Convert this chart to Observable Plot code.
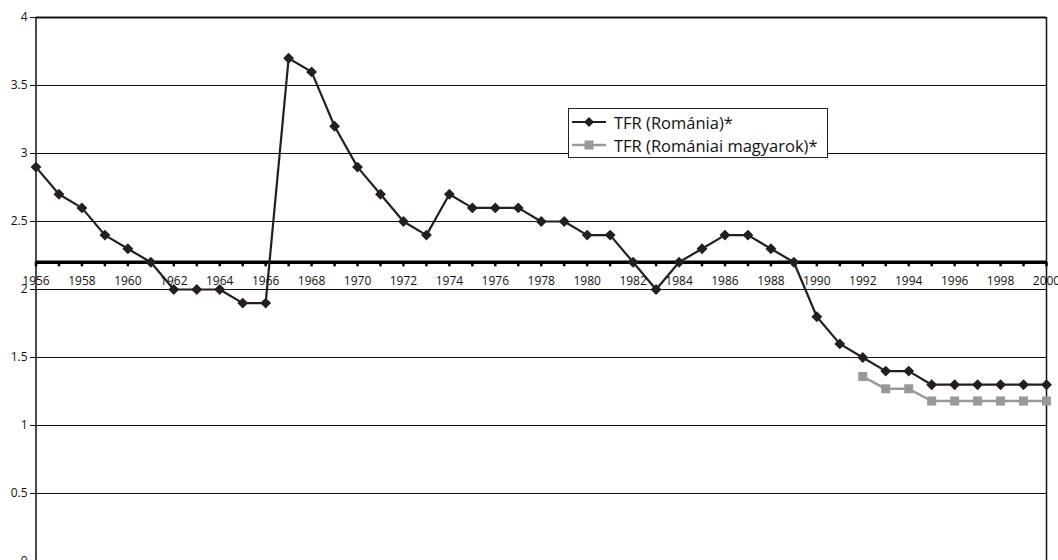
<!DOCTYPE html>
<html>
<head>
<meta charset="utf-8">
<script src="https://cdn.jsdelivr.net/npm/d3@7"></script>
<script src="https://cdn.jsdelivr.net/npm/@observablehq/plot@0.6"></script>
<style>
  html, body { margin: 0; padding: 0; background: #fff; }
  #wrap { position: relative; width: 1058px; height: 560px; overflow: hidden; }
  #legend { position: absolute; left: 568px; top: 108px; width: 258px; height: 48px;
    border: 1px solid #222; background: #fff; font-family: "Open Sans", sans-serif; font-size: 16.5px; color: #111; }
  #legend .row { position: absolute; left: 0; height: 22px; display: flex; align-items: center; white-space: nowrap; }
  #legend svg { margin-left: 3px; margin-right: 8px; }
</style>
</head>
<body>
<div id="wrap"></div>
<script>
const years = d3.range(1956, 2001);
const romania = [2.9, 2.7, 2.6, 2.4, 2.3, 2.2, 2.0, 2.0, 2.0, 1.9, 1.9, 3.7, 3.6, 3.2, 2.9, 2.7, 2.5, 2.4, 2.7, 2.6, 2.6, 2.6, 2.5, 2.5, 2.4, 2.4, 2.2, 2.0, 2.2, 2.3, 2.4, 2.4, 2.3, 2.2, 1.8, 1.6, 1.5, 1.4, 1.4, 1.3, 1.3, 1.3, 1.3, 1.3, 1.3];
const magyarYears = [1992, 1993, 1994, 1995, 1996, 1997, 1998, 1999, 2000];
const magyarok = [1.36, 1.27, 1.27, 1.18, 1.18, 1.18, 1.18, 1.18, 1.18];
const yTicks = [0, 0.5, 1, 1.5, 2, 2.5, 3, 3.5, 4];
const xLabelYears = d3.range(1956, 2001, 2);
const axisAt = 2.2;
const seriesNames = ["TFR (Románia)*", "TFR (Romániai magyarok)*"];

const roData = years.map((y, i) => ({year: y, v: romania[i]}));
const huData = magyarYears.map((y, i) => ({year: y, v: magyarok[i]}));

const chart = Plot.plot({
  width: 1058,
  height: 560,
  marginLeft: 35, marginRight: 12, marginTop: 17, marginBottom: 0,
  style: {fontFamily: "Open Sans, sans-serif", fontSize: "12px", color: "#111", overflow: "visible"},
  x: {domain: [1956, 2000], range: [35.5, 1046], axis: null},
  y: {domain: [0, 4], range: [561, 17], ticks: yTicks, tickFormat: d => String(d), tickSize: 5, tickPadding: 3, label: null},
  marks: [
    Plot.ruleY(yTicks.filter(t => t > 0 && t < 4), {x1: 1956, x2: 2000, stroke: "#111", strokeWidth: 1.2}),
    Plot.ruleY([4], {x1: 1956, x2: 2000, stroke: "#111", strokeWidth: 2}),
    Plot.ruleX([1956], {y1: 0, y2: 4, stroke: "#111", strokeWidth: 1.5}),
    Plot.ruleX([2000], {y1: 0, y2: 4, stroke: "#111", strokeWidth: 1.5}),
    Plot.ruleY([axisAt], {x1: 1956, x2: 2000, stroke: "#000", strokeWidth: 3.5}),
    Plot.ruleX(years, {x: d => d, y1: axisAt, y2: axisAt - 4.5 / 136, stroke: "#000", strokeWidth: 2.5}),
    Plot.text(xLabelYears, {x: d => d, y: axisAt, dy: 19, text: d => String(d), fill: "#111", fontSize: 12}),
    Plot.line(huData, {x: "year", y: "v", stroke: "#999", strokeWidth: 2.5}),
    Plot.dot(huData, {x: "year", y: "v", symbol: "square", r: 5.1, fill: "#999", stroke: "none"}),
    Plot.line(roData, {x: "year", y: "v", stroke: "#231f20", strokeWidth: 2.2}),
    Plot.dot(roData, {x: "year", y: "v", symbol: "diamond2", r: 4.9, fill: "#231f20", stroke: "none"})
  ]
});
const wrap = document.getElementById("wrap");
wrap.appendChild(chart);

const legend = document.createElement("div");
legend.id = "legend";
const marker = (i) => i === 0
  ? `<svg width="34" height="12"><line x1="0" y1="6" x2="34" y2="6" stroke="#231f20" stroke-width="2.2"/><path d="M17 1 L22 6 L17 11 L12 6 Z" fill="#231f20"/></svg>`
  : `<svg width="34" height="12"><line x1="0" y1="6" x2="34" y2="6" stroke="#999" stroke-width="2.5"/><rect x="12.5" y="1.5" width="9" height="9" fill="#999"/></svg>`;
legend.innerHTML = seriesNames.map((n, i) =>
  `<div class="row" style="top:${2 + i * 23}px">${marker(i)}<span>${n}</span></div>`).join("");
wrap.appendChild(legend);
</script>
</body>
</html>
